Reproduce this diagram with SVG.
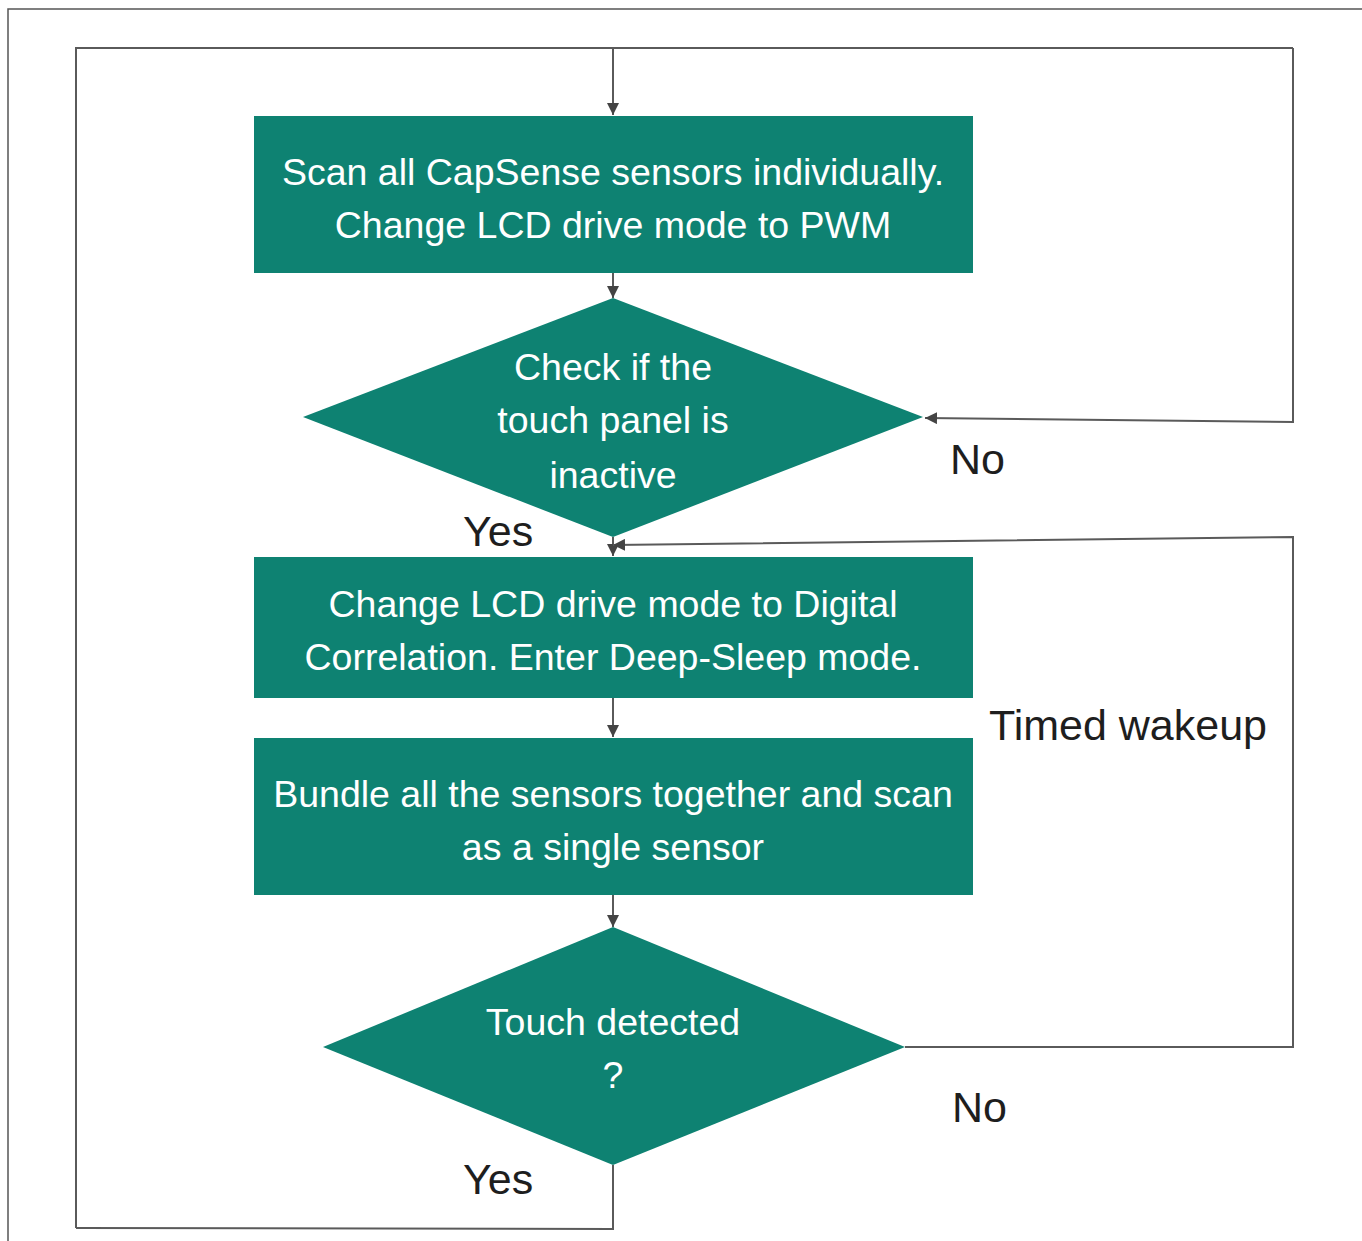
<svg xmlns="http://www.w3.org/2000/svg" width="1362" height="1241" viewBox="0 0 1362 1241">
  <style>
    .shape { fill: #0e8272; }
    .inner { fill: #ffffff; font-family: "Liberation Sans", Arial, sans-serif; font-size: 37.5px; text-anchor: middle; }
    .label { fill: #1e1e1e; font-family: "Liberation Sans", Arial, sans-serif; font-size: 43px; }
    .wire { fill: none; stroke: #5a5a5a; stroke-width: 2; }
  </style>
  <defs>
    <marker id="arrow" viewBox="0 0 12 12" refX="12" refY="6" markerWidth="12" markerHeight="12" markerUnits="userSpaceOnUse" orient="auto">
      <path d="M0,0 L12,6 L0,12 Z" fill="#444444"/>
    </marker>
  </defs>

  <rect width="1362" height="1241" fill="#ffffff"/>
  <!-- frame -->
  <rect x="8" y="9" width="1360" height="1240" fill="none" stroke="#555555" stroke-width="1.5"/>

  <g id="connectors">
    <!-- main loop entry -->
    <path class="wire" d="M76,1228 L76,48 L1293,48"/>
    <path class="wire" d="M613,48 L613,115" marker-end="url(#arrow)"/>
    <!-- No branch from first decision -->
    <path class="wire" d="M1293,48 L1293,422 L925,418" marker-end="url(#arrow)"/>
    <path class="wire" d="M613,273 L613,298" marker-end="url(#arrow)"/>
    <path class="wire" d="M613,537 L613,556" marker-end="url(#arrow)"/>
    <path class="wire" d="M613,698 L613,737" marker-end="url(#arrow)"/>
    <path class="wire" d="M613,895 L613,927" marker-end="url(#arrow)"/>
    <!-- Timed wakeup loop -->
    <path class="wire" d="M905,1047 L1293,1047 L1293,537 L613,545" marker-end="url(#arrow)"/>
    <!-- Yes branch back to scanning -->
    <path class="wire" d="M613,1165 L613,1229 L76,1228"/>
  </g>

  <g id="scan-individual">
    <rect class="shape" x="254" y="116" width="719" height="157"/>
    <text class="inner" x="613" y="185">Scan all CapSense sensors individually.</text>
    <text class="inner" x="613" y="238">Change LCD drive mode to PWM</text>
  </g>

  <g id="check-inactive">
    <polygon class="shape" points="613,298 923,417 613,537 303,417"/>
    <text class="inner" x="613" y="380">Check if the</text>
    <text class="inner" x="613" y="433">touch panel is</text>
    <text class="inner" x="613" y="488">inactive</text>
  </g>

  <g id="deep-sleep">
    <rect class="shape" x="254" y="557" width="719" height="141"/>
    <text class="inner" x="613" y="617">Change LCD drive mode to Digital</text>
    <text class="inner" x="613" y="670">Correlation. Enter Deep-Sleep mode.</text>
  </g>

  <g id="bundle-scan">
    <rect class="shape" x="254" y="738" width="719" height="157"/>
    <text class="inner" x="613" y="807">Bundle all the sensors together and scan</text>
    <text class="inner" x="613" y="860">as a single sensor</text>
  </g>

  <g id="touch-detected">
    <polygon class="shape" points="613,927 905,1047 613,1165 323,1047"/>
    <text class="inner" x="613" y="1035">Touch detected</text>
    <text class="inner" x="613" y="1088">?</text>
  </g>

  <g id="labels">
    <text class="label" x="950" y="474">No</text>
    <text class="label" x="463" y="546">Yes</text>
    <text class="label" x="989" y="740">Timed wakeup</text>
    <text class="label" x="952" y="1122">No</text>
    <text class="label" x="463" y="1194">Yes</text>
  </g>
</svg>
